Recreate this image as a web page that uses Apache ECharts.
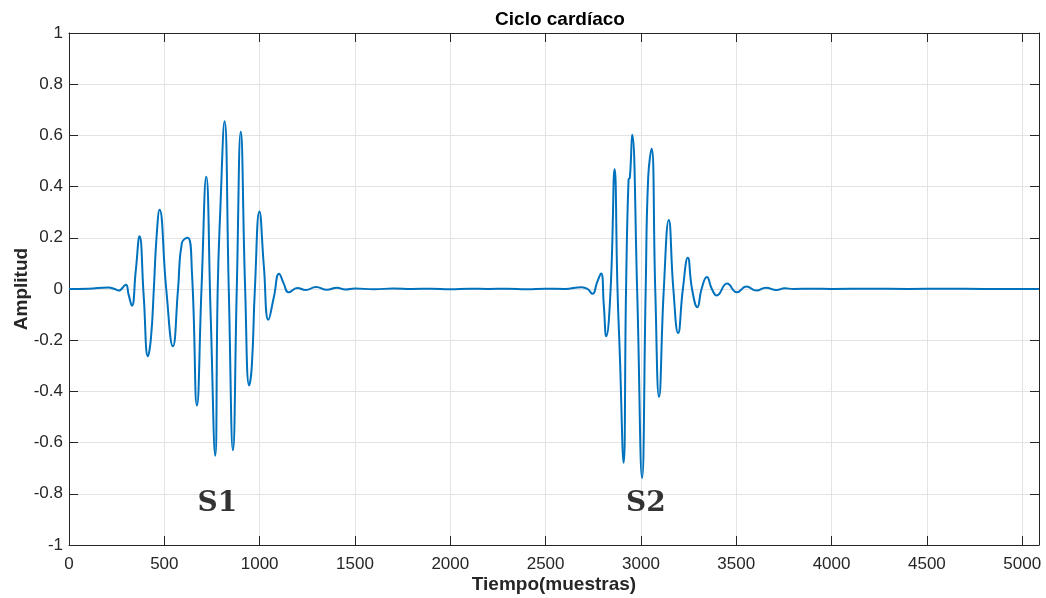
<!DOCTYPE html>
<html>
<head>
<meta charset="utf-8">
<script src="https://cdn.jsdelivr.net/npm/echarts@6/dist/echarts.min.js"></script>
<style>
  html, body { margin: 0; padding: 0; background: #fff; }
  #chart { width: 1046px; height: 598px; }
</style>
</head>
<body>
<div id="chart"></div>
<script>
// Heart sound recording: sample index and amplitude at the turning points of the waveform
const sampleIdx = [
  0, 100, 206, 240, 260, 298, 312, 330, 350, 370, 392, 414, 430, 445, 459, 475,
  510, 545, 572, 592, 622, 645, 671, 695, 720, 743, 767, 780, 793, 816, 838, 860,
  880, 901, 924, 945, 959, 975, 999, 1022, 1046, 1075, 1102, 1127, 1151, 1198, 1242, 1296,
  1352, 1405, 1450, 1500, 1600, 1700, 1800, 1900, 2000, 2100, 2200, 2300, 2400, 2500,
  2600, 2689, 2720, 2746, 2770, 2791, 2805, 2818, 2841, 2862, 2877, 2889, 2909, 2922,
  2935, 2942, 2954, 2980, 3006, 3025, 3038, 3056, 3075, 3095, 3120, 3146, 3170, 3195,
  3220, 3246, 3268, 3296, 3318, 3346, 3372, 3398, 3452, 3503, 3553, 3606, 3655, 3711,
  3754, 3800, 3900, 4000, 4200, 4400, 4600, 4800, 5000, 5088
];
const amplitude = [
  0, 0.001, 0.006, 0.0, -0.006, 0.017, -0.02, -0.065, 0.07, 0.206, -0.03, -0.263, -0.19, 0.0, 0.2, 0.31,
  0.0, -0.224, 0.0, 0.18, 0.2, 0.063, -0.455, 0.0, 0.438, -0.1, -0.651, 0.0, 0.297, 0.655, 0.0, -0.63,
  0.0, 0.614, 0.0, -0.377, -0.30, 0.0, 0.303, 0.09, -0.12, -0.03, 0.06, 0.02, -0.013, 0.004, -0.004, 0.008,
  -0.003, 0.005, -0.002, 0.002, -0.001, 0.002, 0, 0.001, -0.001, 0.001, 0, 0.001, -0.001, 0.001,
  0, 0.007, 0, -0.019, 0.026, 0.061, -0.06, -0.185, 0, 0.469, 0.0, -0.25, -0.679, 0.0,
  0.427, 0.435, 0.603, 0, -0.738, 0.0, 0.434, 0.548, 0.0, -0.421, 0, 0.27, 0.0, -0.172,
  0, 0.122, 0, -0.071, 0, 0.047, 0, -0.025, 0.021, -0.013, 0.01, -0.006, 0.005, -0.004,
  0.003, 0, 0.001, 0, 0.001, 0, 0.001, 0, 0, 0
];
// Heart sound annotations
const soundNames = ['S1', 'S2'];
const soundIdx = [778, 3026];
const soundAmp = [-0.84, -0.84];

const xTicks = [0, 500, 1000, 1500, 2000, 2500, 3000, 3500, 4000, 4500, 5000];

const AXIS_COLOR = '#262626';
const GRID_COLOR = '#e3e3e3';
const FONT = "'Liberation Sans', Arial, Helvetica, sans-serif";

const chart = echarts.init(document.getElementById('chart'), null, { renderer: 'canvas' });

const xMax = sampleIdx[sampleIdx.length - 1];

const option = {
  animation: false,
  backgroundColor: '#ffffff',
  title: {
    text: 'Ciclo cardíaco',
    left: 555,
    textAlign: 'center',
    top: 5,
    textStyle: { fontFamily: FONT, fontWeight: 'bold', fontSize: 19, color: '#000' }
  },
  grid: { left: 69, right: 7, top: 33, bottom: 53, containLabel: false, outerBoundsMode: 'none' },
  xAxis: [
    {
      type: 'value',
      min: 0, max: xMax, interval: 500,
      name: 'Tiempo(muestras)',
      nameLocation: 'middle',
      nameGap: 30,
      nameMoveOverlap: false,
      nameTextStyle: { fontFamily: FONT, fontWeight: 'bold', fontSize: 19, color: '#262626' },
      axisLine: { show: true, onZero: false, lineStyle: { color: AXIS_COLOR, width: 1 } },
      axisTick: { show: true, inside: true, length: 9, lineStyle: { color: AXIS_COLOR } },
      axisLabel: {
        fontFamily: FONT, fontSize: 17, color: '#262626', margin: 11,
        showMaxLabel: true,
        formatter: v => (xTicks.indexOf(v) >= 0 ? String(v) : '')
      },
      splitLine: { show: true, lineStyle: { color: GRID_COLOR, width: 1 } }
    },
    {
      type: 'value', position: 'top',
      min: 0, max: xMax, interval: 500,
      axisLine: { show: true, onZero: false, lineStyle: { color: AXIS_COLOR, width: 1 } },
      axisTick: { show: true, inside: true, length: 9, lineStyle: { color: AXIS_COLOR } },
      axisLabel: { show: false },
      splitLine: { show: false }
    }
  ],
  yAxis: [
    {
      type: 'value',
      min: -1, max: 1, interval: 0.2,
      name: 'Amplitud',
      nameLocation: 'middle',
      nameGap: 38,
      nameMoveOverlap: false,
      nameRotate: 90,
      nameTextStyle: { fontFamily: FONT, fontWeight: 'bold', fontSize: 19, color: '#262626' },
      axisLine: { show: true, onZero: false, lineStyle: { color: AXIS_COLOR, width: 1 } },
      axisTick: { show: true, inside: true, length: 9, lineStyle: { color: AXIS_COLOR } },
      axisLabel: {
        fontFamily: FONT, fontSize: 17, color: '#262626', margin: 6,
        formatter: v => String(parseFloat(v.toFixed(1)))
      },
      splitLine: { show: true, lineStyle: { color: GRID_COLOR, width: 1 } }
    },
    {
      type: 'value', position: 'right',
      min: -1, max: 1, interval: 0.2,
      axisLine: { show: true, onZero: false, lineStyle: { color: AXIS_COLOR, width: 1 } },
      axisTick: { show: true, inside: true, length: 9, lineStyle: { color: AXIS_COLOR } },
      axisLabel: { show: false },
      splitLine: { show: false }
    }
  ],
  series: [
    {
      type: 'line',
      data: sampleIdx.map((x, i) => [x, amplitude[i]]),
      showSymbol: false,
      smooth: 0.5,
      lineStyle: { color: '#0072BD', width: 2 },
      z: 3
    },
    {
      type: 'scatter',
      data: soundNames.map((n, i) => ({ name: n, value: [soundIdx[i], soundAmp[i]] })),
      symbolSize: 0,
      label: {
        show: true,
        position: 'inside',
        formatter: '{b}',
        fontFamily: "'DejaVu Serif', 'Liberation Serif', serif",
        fontWeight: 'bold',
        fontSize: 28,
        color: '#000000',
        textBorderWidth: 0
      },
      z: 4
    }
  ]
};

chart.setOption(option);
</script>
</body>
</html>
